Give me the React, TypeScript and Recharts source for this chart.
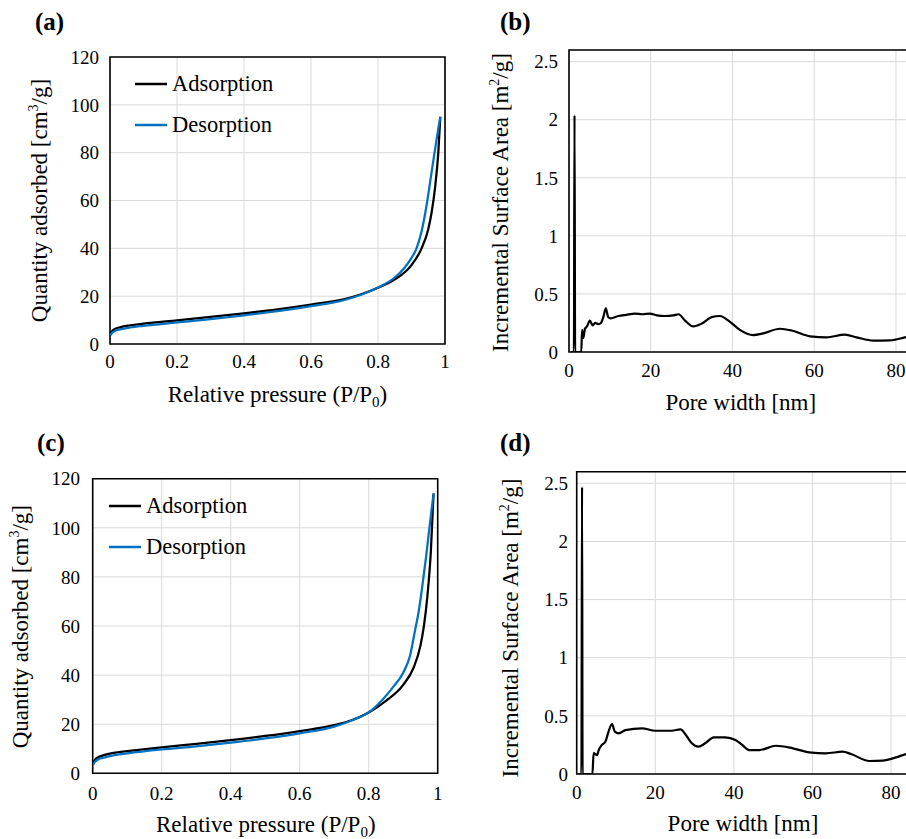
import React from 'react';
import { LineChart, Line, XAxis, YAxis, CartesianGrid, Legend, ReferenceArea } from 'recharts';

const FONT = '"Liberation Serif", "Times New Roman", Times, serif';

// (a) isotherm, sample 1
const adsPressureA = [0.001, 0.005, 0.015, 0.03, 0.06, 0.1, 0.2, 0.3, 0.4, 0.5, 0.6, 0.7, 0.75, 0.8, 0.85, 0.9, 0.93, 0.95, 0.96, 0.97, 0.98, 0.986];
const adsQuantityA = [4.2, 5.2, 6.3, 7.0, 7.8, 8.5, 9.9, 11.3, 12.8, 14.5, 16.5, 18.8, 20.8, 23.5, 27.0, 33.0, 40.0, 48.0, 55.0, 65.0, 80.0, 95.0];
const desPressureA = [0.001, 0.005, 0.015, 0.03, 0.06, 0.1, 0.2, 0.3, 0.4, 0.5, 0.6, 0.7, 0.75, 0.8, 0.85, 0.88, 0.9, 0.915, 0.93, 0.945, 0.958, 0.971, 0.98, 0.986];
const desQuantityA = [3.6, 4.5, 5.5, 6.1, 6.9, 7.6, 9.0, 10.4, 12.0, 13.7, 15.8, 18.4, 20.6, 23.6, 27.8, 32.0, 36.0, 40.0, 47.0, 58.0, 70.0, 82.0, 90.0, 95.0];

// (c) isotherm, sample 2
const adsPressureC = [0.001, 0.005, 0.015, 0.03, 0.06, 0.1, 0.2, 0.3, 0.4, 0.5, 0.6, 0.7, 0.75, 0.8, 0.85, 0.9, 0.93, 0.95, 0.96, 0.97, 0.98, 0.988];
const adsQuantityC = [4.0, 5.2, 6.5, 7.3, 8.3, 9.0, 10.6, 12.0, 13.5, 15.2, 17.2, 19.6, 21.6, 24.8, 29.5, 36.0, 43.0, 52.0, 60.0, 72.0, 90.0, 114.0];
const desPressureC = [0.001, 0.005, 0.015, 0.03, 0.06, 0.1, 0.2, 0.3, 0.4, 0.5, 0.6, 0.7, 0.75, 0.8, 0.84, 0.87, 0.9, 0.92, 0.934, 0.945, 0.957, 0.967, 0.976, 0.988];
const desQuantityC = [3.4, 4.4, 5.6, 6.3, 7.3, 8.1, 9.7, 11.0, 12.5, 14.2, 16.3, 19.0, 21.5, 24.8, 30.0, 35.0, 41.0, 48.0, 58.0, 66.0, 78.0, 89.0, 100.0, 114.0];

// (b) pore size distribution, sample 1
const poreWidthB = [0.5, 1.2, 1.35, 1.5, 3.0, 3.2, 3.5, 3.9, 4.4, 5.1, 5.8, 6.4, 7.2, 7.8, 8.4, 9.0, 9.6, 10.2, 12.1, 14, 16.1, 18, 19.8, 21.5, 23.5, 25.5, 26.8, 28.4, 30.4, 32.5, 34.9, 36.9, 39.4, 41.8, 45.1, 47.5, 51.6, 54.5, 59, 63, 67.5, 70.4, 74.5, 78.5, 82.2, 84];
const surfaceAreaB = [0, 0, 2.04, 0, 0, 0.19, 0.12, 0.2, 0.22, 0.27, 0.23, 0.25, 0.24, 0.25, 0.3, 0.375, 0.3, 0.29, 0.31, 0.32, 0.33, 0.325, 0.33, 0.315, 0.31, 0.315, 0.325, 0.27, 0.22, 0.245, 0.3, 0.31, 0.26, 0.19, 0.146, 0.16, 0.2, 0.185, 0.135, 0.126, 0.15, 0.126, 0.098, 0.1, 0.126, 0.14];

// (d) pore size distribution, sample 2
const poreWidthD = [0.5, 1.2, 1.36, 1.5, 4.0, 4.3, 5.2, 5.6, 6.4, 7.3, 8.1, 9.0, 9.7, 10.7, 12.4, 16.6, 20, 24.2, 26.4, 28.1, 29.3, 31, 32.7, 34.9, 37.8, 40.4, 42.1, 43.9, 46.5, 50.7, 55, 59.2, 63.4, 67.7, 69.8, 74.5, 77.9, 81.3, 83.8, 85];
const surfaceAreaD = [0, 0, 2.47, 0, 0, 0.18, 0.163, 0.206, 0.25, 0.278, 0.364, 0.43, 0.364, 0.35, 0.378, 0.393, 0.372, 0.372, 0.384, 0.32, 0.264, 0.235, 0.264, 0.315, 0.315, 0.292, 0.25, 0.206, 0.206, 0.243, 0.221, 0.186, 0.178, 0.192, 0.172, 0.112, 0.115, 0.143, 0.172, 0.18];

const pressureTicks = [0, 0.2, 0.4, 0.6, 0.8, 1];
const quantityTicks = [0, 20, 40, 60, 80, 100, 120];
const poreTicks = [0, 20, 40, 60, 80];
const areaTicks = [0, 0.5, 1, 1.5, 2, 2.5];

interface Pt {
  x: number;
  y: number;
}

const zip = (xs: number[], ys: number[]): Pt[] => xs.map((x, i) => ({ x, y: ys[i] }));

interface Series {
  name: string;
  color: string;
  data: Pt[];
}

interface PanelProps {
  left: number;
  top: number;
  width: number;
  height: number;
  margin: { top: number; right: number; bottom: number; left: number };
  xDomain: [number, number];
  xTicks: number[];
  yDomain: [number, number];
  yTicks: number[];
  series: Series[];
  strokeWidth: number;
  xTitle: React.ReactNode;
  xTitleAt: [number, number];
  yTitle: React.ReactNode;
  yTitleAt: [number, number];
  xTickMargin: number;
  yTickMargin: number;
  legendAt?: [number, number];
}

const tickStyle = { fontFamily: FONT, fontSize: 19, fill: '#000' };

const renderLegend = (props: any) => (
  <div style={{ fontFamily: FONT, fontSize: 22.5, color: '#000' }}>
    {(props.payload || []).map((entry: any) => (
      <div key={entry.value} style={{ display: 'flex', alignItems: 'center', height: 41 }}>
        <svg width={32} height={4} style={{ display: 'block' }}>
          <line x1={0} y1={2} x2={32} y2={2} stroke={entry.color} strokeWidth={2.5} />
        </svg>
        <span style={{ marginLeft: 5, whiteSpace: 'nowrap' }}>{entry.value}</span>
      </div>
    ))}
  </div>
);

const Panel: React.FC<PanelProps> = (p) => {
  const [tx, ty] = p.xTitleAt;
  const [yx, yy] = p.yTitleAt;
  return (
    <div style={{ position: 'absolute', left: p.left, top: p.top }}>
      <LineChart width={p.width} height={p.height} margin={p.margin}>
        <CartesianGrid stroke="#d9d9d9" strokeWidth={1} />
        <XAxis
          type="number"
          dataKey="x"
          domain={p.xDomain}
          ticks={p.xTicks}
          interval={0}
          allowDataOverflow
          tickLine={false}
          axisLine={false}
          height={30}
          tick={tickStyle}
          tickMargin={p.xTickMargin}
          label={{
            content: () => (
              <text x={tx} y={ty} textAnchor="middle" fontFamily={FONT} fontSize={23} fill="#000">
                {p.xTitle}
              </text>
            ),
          }}
        />
        <YAxis
          type="number"
          dataKey="y"
          domain={p.yDomain}
          ticks={p.yTicks}
          interval={0}
          allowDataOverflow
          tickLine={false}
          axisLine={false}
          width={50}
          tick={tickStyle}
          tickMargin={p.yTickMargin}
          label={{
            content: () => (
              <text
                x={yx}
                y={yy}
                transform={`rotate(-90 ${yx} ${yy})`}
                textAnchor="middle"
                fontFamily={FONT}
                fontSize={23}
                fill="#000"
              >
                {p.yTitle}
              </text>
            ),
          }}
        />
        {p.series.map((s) => (
          <Line
            key={s.name}
            data={s.data}
            dataKey="y"
            name={s.name}
            type="monotone"
            stroke={s.color}
            strokeWidth={p.strokeWidth}
            dot={false}
            activeDot={false}
            isAnimationActive={false}
          />
        ))}
        <ReferenceArea
          x1={p.xDomain[0]}
          x2={p.xDomain[1]}
          y1={p.yDomain[0]}
          y2={p.yDomain[1]}
          fill="none"
          stroke="#000"
          strokeWidth={1.6}
          ifOverflow="visible"
        />
        {p.legendAt && (
          <Legend
            layout="vertical"
            align="center"
            verticalAlign="middle"
            content={renderLegend}
            wrapperStyle={{ left: p.legendAt[0], top: p.legendAt[1], width: 'auto' }}
          />
        )}
      </LineChart>
    </div>
  );
};

const isoXTitle = (
  <>
    Relative pressure (P/P<tspan dy={5} fontSize={15}>0</tspan>
    <tspan dy={-5}>)</tspan>
  </>
);
const isoYTitle = (
  <>
    Quantity adsorbed [cm<tspan dy={-9} fontSize={14}>3</tspan>
    <tspan dy={9}>/g]</tspan>
  </>
);
const psdXTitle = <>Pore width [nm]</>;
const psdYTitle = (
  <>
    Incremental Surface Area [m<tspan dy={-9} fontSize={14}>2</tspan>
    <tspan dy={9}>/g]</tspan>
  </>
);

const letterStyle: React.CSSProperties = {
  position: 'absolute',
  fontFamily: FONT,
  fontWeight: 'bold',
  fontSize: 25,
  lineHeight: '25px',
  color: '#000',
};

export default function App() {
  return (
    <div
      style={{
        position: 'absolute',
        left: 0,
        top: 0,
        width: 906,
        height: 839,
        overflow: 'hidden',
        background: '#fff',
      }}
    >
      <div style={{ ...letterStyle, left: 35, top: 9 }}>(a)</div>
      <div style={{ ...letterStyle, left: 500, top: 9 }}>(b)</div>
      <div style={{ ...letterStyle, left: 37, top: 430 }}>(c)</div>
      <div style={{ ...letterStyle, left: 500, top: 430 }}>(d)</div>

      <Panel
        left={0}
        top={0}
        width={460}
        height={420}
        margin={{ top: 57, right: 15, bottom: 46, left: 60 }}
        xDomain={[0, 1]}
        xTicks={pressureTicks}
        yDomain={[0, 120]}
        yTicks={quantityTicks}
        series={[
          { name: 'Adsorption', color: '#000000', data: zip(adsPressureA, adsQuantityA) },
          { name: 'Desorption', color: '#0070C0', data: zip(desPressureA, desQuantityA) },
        ]}
        strokeWidth={2.25}
        xTitle={isoXTitle}
        xTitleAt={[277.5, 402]}
        yTitle={isoYTitle}
        yTitleAt={[47, 200.5]}
        xTickMargin={5}
        yTickMargin={5}
        legendAt={[135, 63.5]}
      />

      <Panel
        left={460}
        top={0}
        width={470}
        height={420}
        margin={{ top: 50, right: 17.7, bottom: 38, left: 59 }}
        xDomain={[0, 84]}
        xTicks={poreTicks}
        yDomain={[0, 2.6]}
        yTicks={areaTicks}
        series={[{ name: 'Incremental Surface Area', color: '#000000', data: zip(poreWidthB, surfaceAreaB) }]}
        strokeWidth={2.2}
        xTitle={psdXTitle}
        xTitleAt={[280.8, 410]}
        yTitle={psdYTitle}
        yTitleAt={[48, 202.5]}
        xTickMargin={6}
        yTickMargin={5}
      />

      <Panel
        left={0}
        top={420}
        width={460}
        height={419}
        margin={{ top: 58.7, right: 22.3, bottom: 35.7, left: 42.7 }}
        xDomain={[0, 1]}
        xTicks={pressureTicks}
        yDomain={[0, 120]}
        yTicks={quantityTicks}
        series={[
          { name: 'Adsorption', color: '#000000', data: zip(adsPressureC, adsQuantityC) },
          { name: 'Desorption', color: '#0070C0', data: zip(desPressureC, desQuantityC) },
        ]}
        strokeWidth={2.25}
        xTitle={isoXTitle}
        xTitleAt={[265.8, 412]}
        yTitle={isoYTitle}
        yTitleAt={[28.5, 206.7]}
        xTickMargin={7}
        yTickMargin={6.7}
        legendAt={[109, 65.5]}
      />

      <Panel
        left={460}
        top={420}
        width={470}
        height={419}
        margin={{ top: 51.7, right: 19.3, bottom: 35, left: 66.7 }}
        xDomain={[0, 85]}
        xTicks={poreTicks}
        yDomain={[0, 2.6]}
        yTicks={areaTicks}
        series={[{ name: 'Incremental Surface Area', color: '#000000', data: zip(poreWidthD, surfaceAreaD) }]}
        strokeWidth={2.2}
        xTitle={psdXTitle}
        xTitleAt={[283, 411]}
        yTitle={psdYTitle}
        yTitleAt={[58.3, 208]}
        xTickMargin={6}
        yTickMargin={2.7}
      />
    </div>
  );
}
